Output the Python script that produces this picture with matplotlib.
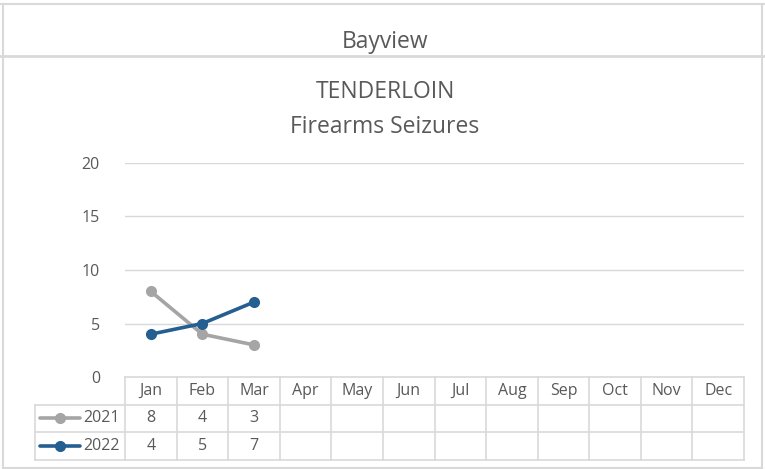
import matplotlib.pyplot as plt
from matplotlib.lines import Line2D

months = ["Jan", "Feb", "Mar", "Apr", "May", "Jun",
          "Jul", "Aug", "Sep", "Oct", "Nov", "Dec"]
series_names = ["2021", "2022"]
vals_2021 = [8, 4, 3]
vals_2022 = [4, 5, 7]
yticks = [0, 5, 10, 15, 20]

colors = ["#A5A5A5", "#255E91"]
grid_c = "#D9D9D9"
text_c = "#595959"

plt.rcParams['font.family'] = ['Open Sans', 'DejaVu Sans']

W, H = 765, 469
fig = plt.figure(figsize=(W / 100, H / 100), dpi=100)


def px(x, y):
    return x / W, 1 - y / H


# spreadsheet-ish frame
def fline(x0, y0, x1, y1, lw=1.5, c="#D9D9D9"):
    a = px(x0, y0)
    b = px(x1, y1)
    fig.add_artist(Line2D([a[0], b[0]], [a[1], b[1]], color=c, lw=lw,
                          transform=fig.transFigure))


fline(0, 4, W, 4)
fline(0, 56, W, 56, lw=2)
fline(3, 4, 3, H)
fline(762, 4, 762, H)
fline(3, 468, 762, 468)

fs_title = 16.5
fig.text(*px(385, 42), "Bayview", ha="center", va="center", fontsize=fs_title, color=text_c)
fig.text(*px(385, 92), "TENDERLOIN", ha="center", va="center", fontsize=fs_title, color=text_c)
fig.text(*px(385, 127), "Firearms Seizures", ha="center", va="center", fontsize=fs_title, color=text_c)

left, right, top, bottom = 125, 744, 163, 377
ax = fig.add_axes([left / W, 1 - bottom / H, (right - left) / W, (bottom - top) / H])
ax.set_xlim(-0.5, 11.5)
ax.set_ylim(0, 20)
ax.set_yticks(yticks)
fs = 11.5
ax.set_yticklabels([str(t) for t in yticks], color=text_c, fontsize=fs)
ax.set_xticks([])
ax.tick_params(axis="y", length=0, pad=18)
for s in ax.spines.values():
    s.set_visible(False)
ax.grid(axis="y", color=grid_c, lw=1)
ax.set_axisbelow(True)

for vals, c in zip([vals_2021, vals_2022], colors):
    ax.plot(range(len(vals)), vals, color=c, lw=2.6, marker="o", ms=7,
            solid_capstyle="round")

# data table under the axis
axh = bottom - top
row = 27.5 / axh
leg_x = (35 - left) / (right - left)
tc = "#D9D9D9"
tr = ax.get_xaxis_transform()
ta = ax.transAxes

# horizontal lines
ax.plot([-0.5, 11.5], [0, 0], color=tc, lw=1.2, transform=tr, clip_on=False)
for k in (1, 2, 3):
    ax.plot([leg_x, 1], [-k * row, -k * row], color=tc, lw=1.2, transform=ta, clip_on=False)
# vertical lines
for i in range(13):
    ax.plot([i - 0.5, i - 0.5], [0, -3 * row], color=tc, lw=1.2, transform=tr, clip_on=False)
ax.plot([leg_x, leg_x], [-row, -3 * row], color=tc, lw=1.2, transform=ta, clip_on=False)

for i, m in enumerate(months):
    ax.text(i, -0.5 * row, m, ha="center", va="center", fontsize=fs,
            color=text_c, transform=tr)

for k, (name, vals, c) in enumerate(zip(series_names, [vals_2021, vals_2022], colors)):
    yc = -(k + 1.5) * row
    for i, v in enumerate(vals):
        ax.text(i, yc, str(v), ha="center", va="center", fontsize=fs,
                color=text_c, transform=tr)
    x0 = (40 - left) / (right - left)
    x1 = (80 - left) / (right - left)
    ax.plot([x0, x1], [yc, yc], color=c, lw=2.6, transform=ta, clip_on=False,
            solid_capstyle="round")
    ax.plot([(x0 + x1) / 2], [yc], marker="o", ms=7, color=c, transform=ta, clip_on=False)
    ax.text((120 - left) / (right - left), yc, name, ha="right", va="center",
            fontsize=fs, color=text_c, transform=ta)

fig.savefig("out.png", dpi=100)
